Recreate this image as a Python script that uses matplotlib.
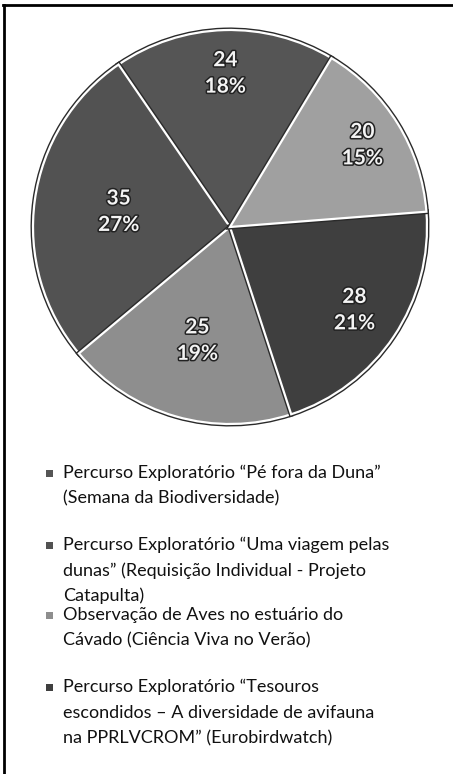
"""
Pie chart: participants per activity (grayscale Excel-style pie with legend below).
"""

import numpy as np
import matplotlib.pyplot as plt
import matplotlib.patheffects as pe
from matplotlib.patches import Rectangle
from matplotlib.lines import Line2D

plt.rcParams['font.family'] = ['Lato', 'DejaVu Sans']

# Data (counterclockwise from the 24 slice)
values = [24, 35, 25, 28, 20]
colors = ['#555555', '#525252', '#8e8e8e', '#3f3f3f', '#a0a0a0']
legend_labels = [
    ['Percurso Exploratório “Pé fora da Duna”', '(Semana da Biodiversidade)'],
    ['Percurso Exploratório “Uma viagem pelas',
     'dunas” (Requisição Individual - Projeto', 'Catapulta)'],
    ['Observação de Aves no estuário do', 'Cávado (Ciência Viva no Verão)'],
    ['Percurso Exploratório “Tesouros',
     'escondidos – A diversidade de avifauna', 'na PPRLVCROM” (Eurobirdwatch)'],
]

W, H = 453, 774
fig = plt.figure(figsize=(W / 100, H / 100), dpi=100)
fig.patch.set_facecolor('white')

# pie axes: centre (230, 227) px, radius ~197 px
cx, cy, r = 230, 227, 197
ax = fig.add_axes([(cx - r) / W, (H - cy - r) / H, 2 * r / W, 2 * r / H])

total = sum(values)
labels = [f'{v}\n{v / total * 100:.0f}%' for v in values]
wedges, texts = ax.pie(values, colors=colors, startangle=59, radius=1,
                       labels=labels, labeldistance=0.7,
                       wedgeprops=dict(edgecolor='white', linewidth=1.6))
for w in wedges:
    w.set_path_effects([pe.Stroke(linewidth=3.6, foreground='#2a2a2a'), pe.Normal()])

ax.set_xlim(-1, 1)
ax.set_ylim(-1, 1)
ax.set_aspect('equal')
ax.axis('off')

# label radii roughly as Excel placed them
label_r = [0.78, 0.57, 0.60, 0.76, 0.79]
for t, w, lr in zip(texts, wedges, label_r):
    ang = np.deg2rad((w.theta1 + w.theta2) / 2)
    t.set_position((lr * np.cos(ang), lr * np.sin(ang)))
    t.set_ha('center')
    t.set_va('center')
    t.set_fontsize(15)
    t.set_fontweight('bold')
    t.set_color('#f4f4f4')
    t.set_linespacing(1.4)
    t.set_path_effects([pe.withStroke(linewidth=2.2, foreground='#222222')])

# legend drawn by hand (entries overlap like the original)
first_line_y = [473, 545, 615, 687]
line_step = 25.5
for lines, y0, w in zip(legend_labels, first_line_y, wedges):
    fig.add_artist(Rectangle(((46) / W, 1 - (y0 + 3.5) / H), 7 / W, 7 / H,
                             transform=fig.transFigure,
                             facecolor=w.get_facecolor(), edgecolor='none'))
    for i, line in enumerate(lines):
        fig.text(63 / W, 1 - (y0 + i * line_step) / H, line,
                 ha='left', va='center', fontsize=13, color='#111111')

# chart-area border (top and left edges visible in the crop)
fig.add_artist(Line2D([3 / W, 1], [1 - 5 / H, 1 - 5 / H], transform=fig.transFigure,
                      color='black', linewidth=2))
fig.add_artist(Line2D([4 / W, 4 / W], [0, 1 - 5 / H], transform=fig.transFigure,
                      color='black', linewidth=2))

fig.savefig('out.png', dpi=100)
plt.close()
